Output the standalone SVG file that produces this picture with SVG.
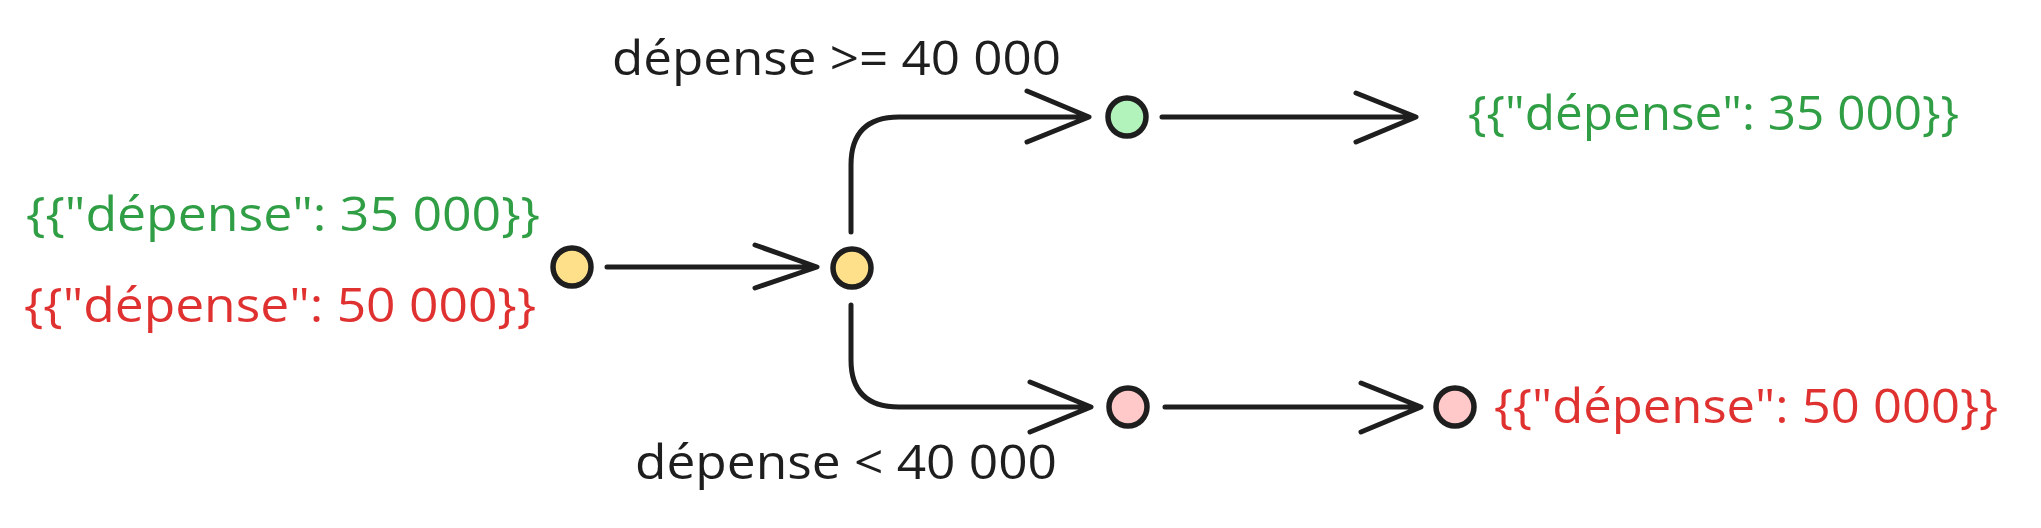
<svg xmlns="http://www.w3.org/2000/svg" width="2041" height="528" viewBox="0 0 2041 528">
<style>
.node{stroke:#1e1e1e;stroke-width:5.5}
.y{fill:#ffe08a}
.g{fill:#b2f2bb}
.p{fill:#ffc9c9}
.c{fill:none;stroke:#1e1e1e;stroke-width:5;stroke-linecap:round;stroke-linejoin:round}
.t{font-family:"Open Sans","Noto Sans",sans-serif;font-size:48px;font-weight:500}
.green{fill:#2f9e44}
.red{fill:#e03131}
.black{fill:#1e1e1e}
</style>
<rect width="2041" height="528" fill="#ffffff"/>
<g id="connectors">
<path class="c" d="M607 267 L815 267 M755 245 L817 267 L755 288"/>
<path class="c" d="M851 232 L851 165 Q851 117 899 117 L1087 117 M1027 91 L1089 117 L1027 142"/>
<path class="c" d="M851 305 L851 360 Q851 407 899 407 L1089 407 M1030 382 L1091 407 L1030 432"/>
<path class="c" d="M1162 117 L1414 117 M1356 93 L1416 117 L1356 142"/>
<path class="c" d="M1165 407 L1419 407 M1361 383 L1421 407 L1361 432"/>
</g>
<g id="n_start"><circle class="node y" cx="572" cy="267" r="19"/></g>
<g id="n_split"><circle class="node y" cx="852" cy="268" r="19"/></g>
<g id="n_green"><circle class="node g" cx="1127" cy="117" r="19"/></g>
<g id="n_pink"><circle class="node p" cx="1128" cy="407" r="19"/></g>
<g id="n_end"><circle class="node p" cx="1455" cy="407" r="19"/></g>
<g id="labels">
<text class="t green" x="26" y="231" textLength="514" lengthAdjust="spacingAndGlyphs">{{"dépense": 35 000}}</text>
<text class="t red" x="24" y="322" textLength="512" lengthAdjust="spacingAndGlyphs">{{"dépense": 50 000}}</text>
<text class="t black" x="612" y="75" textLength="449" lengthAdjust="spacingAndGlyphs">dépense &gt;= 40 000</text>
<text class="t black" x="635" y="479" textLength="422" lengthAdjust="spacingAndGlyphs">dépense &lt; 40 000</text>
<text class="t green" x="1468" y="130" textLength="491" lengthAdjust="spacingAndGlyphs">{{"dépense": 35 000}}</text>
<text class="t red" x="1494" y="423" textLength="504" lengthAdjust="spacingAndGlyphs">{{"dépense": 50 000}}</text>
</g>
</svg>
